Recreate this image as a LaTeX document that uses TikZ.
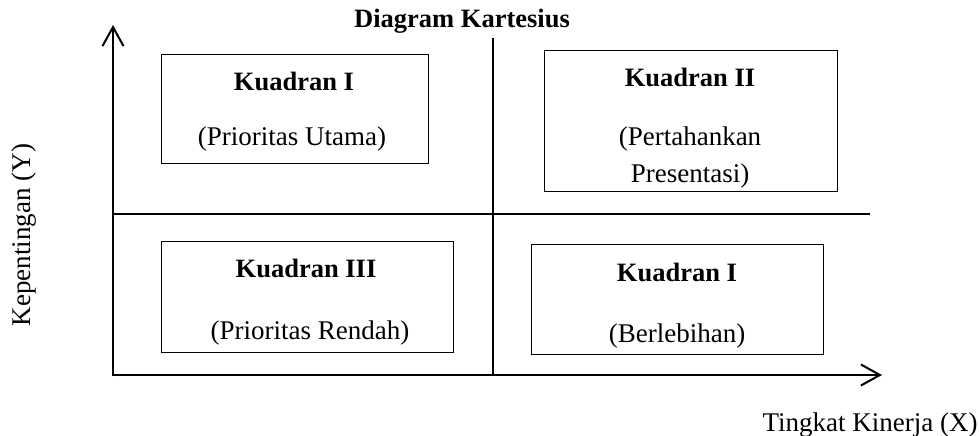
\documentclass[tikz,border=0pt]{standalone}
\usepackage{fontspec}
\setmainfont{Liberation Serif}
\usetikzlibrary{arrows.meta}
\begin{document}
\begin{tikzpicture}[x=1pt,y=-1pt,
  axis/.style={line width=2pt,-{Straight Barb[length=19pt,width=21pt,line width=2pt]}},
  divider/.style={line width=1.6pt},
  quad/.style={draw,line width=0.9pt},
  head/.style={font=\fontsize{26.5}{30}\selectfont\bfseries},
  body/.style={font=\fontsize{27}{31}\selectfont, align=center},
  lbl/.style={font=\fontsize{27}{31}\selectfont}]
\useasboundingbox (0,0) rectangle (979,436);
% axes
\coordinate (O) at (113,375);
\coordinate (Ytop) at (113,25);
\coordinate (Xend) at (882,375);
\draw[axis] (113,376) -- (Ytop);
\draw[axis] (112,375) -- (Xend);
% quadrant dividers
\coordinate (vtop) at (493,38);
\coordinate (vbot) at (493,375);
\coordinate (hl) at (113,214);
\coordinate (hr) at (870,214);
\draw[divider] (vtop) -- (vbot);
\draw[divider] (hl) -- (hr);
% quadrant boxes
\draw[quad] (161,54) rectangle (428,163);
\draw[quad] (544,50) rectangle (837,191);
\draw[quad] (161,241) rectangle (453,352);
\draw[quad] (531,244) rectangle (823,354);
% box texts
\node[head] (q1h) at (294,81) {Kuadran I};
\node[body] (q1b) at (292,139) {(Prioritas Utama)};
\node[head] (q2h) at (690,77) {Kuadran II};
\node[body] (q2b) at (690,139) {(Pertahankan};
\node[body] (q2c) at (690,176) {Presentasi)};
\node[head] (q3h) at (306,268) {Kuadran III};
\node[body] (q3b) at (310,333) {(Prioritas Rendah)};
\node[head] (q4h) at (677,272) {Kuadran I};
\node[body] (q4b) at (677,336) {(Berlebihan)};
% titles
\node[head] (title) at (462,21) {Diagram Kartesius};
\node[lbl,rotate=90] (ylab) at (24,235) {Kepentingan (Y)};
\node[lbl] (xlab) at (870,425) {Tingkat Kinerja (X)};
\end{tikzpicture}
\end{document}
